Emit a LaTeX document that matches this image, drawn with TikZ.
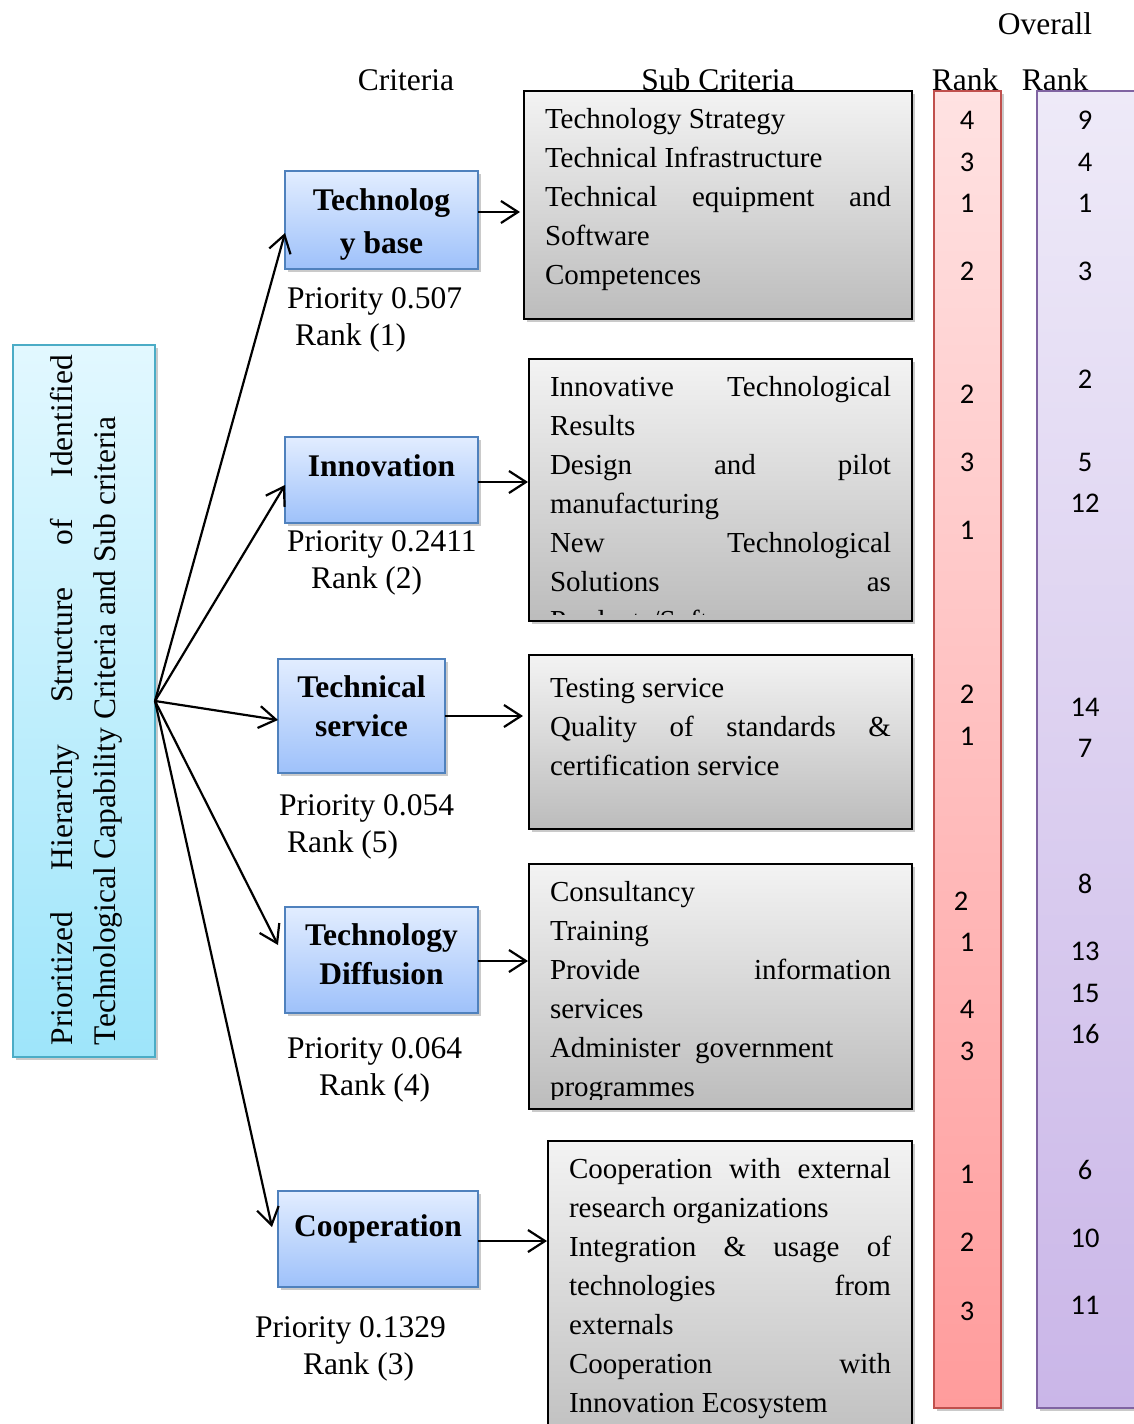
\documentclass[tikz,border=0pt]{standalone}
\usepackage{fontspec}
\setmainfont{Liberation Serif}
\newfontfamily\calib{Carlito}
\usetikzlibrary{arrows.meta,shadows}
\definecolor{critbd}{RGB}{79,129,189}
\definecolor{critTop}{RGB}{226,237,255}
\definecolor{critBot}{RGB}{158,193,250}
\definecolor{lbbd}{RGB}{75,172,198}
\definecolor{lbTop}{RGB}{226,248,255}
\definecolor{lbBot}{RGB}{158,229,250}
\definecolor{subTop}{RGB}{243,243,243}
\definecolor{subBot}{RGB}{188,188,188}
\definecolor{redbd}{RGB}{192,80,77}
\definecolor{redTop}{RGB}{255,226,226}
\definecolor{redBot}{RGB}{255,156,156}
\definecolor{purbd}{RGB}{128,100,162}
\definecolor{purTop}{RGB}{238,234,248}
\definecolor{purBot}{RGB}{202,182,232}
\newcommand\jline[2]{\makebox[#1][s]{#2}}
\begin{document}
\begin{tikzpicture}[x=0.5pt,y=-0.5pt,
 every node/.style={inner sep=0pt, outer sep=0pt},
 shadowed/.style={drop shadow={shadow xshift=1.5pt,shadow yshift=-1.5pt,opacity=0.35,fill=black!60}},
 crit/.style={draw=critbd, line width=1pt, top color=critTop, bottom color=critBot, shadowed},
 lbox/.style={draw=lbbd, line width=1pt, top color=lbTop, bottom color=lbBot, shadowed},
 subb/.style={draw=black, line width=1.2pt, top color=subTop, bottom color=subBot, shadowed},
 redcol/.style={draw=redbd, line width=1.2pt, top color=redTop, bottom color=redBot, shadowed},
 purcol/.style={draw=purbd, line width=1.2pt, top color=purTop, bottom color=purBot, shadowed},
 subtxt/.style={anchor=north west, align=left, font=\fontsize{14.5}{19.5}\selectfont},
 lbl/.style={anchor=north west, align=left, font=\fontsize{15.75}{18.5}\selectfont},
 cname/.style={align=center, font=\bfseries\fontsize{15.75}{19.5}\selectfont},
 hdr/.style={font=\fontsize{15.75}{18.5}\selectfont},
 rk/.style={font=\calib\fontsize{14.25}{17}\selectfont},
 arr/.style={line width=1.1pt, -{Straight Barb[length=8.5pt,width=11pt]}}
]
\useasboundingbox (0,0) rectangle (1134,1424);
\clip (0,0) rectangle (1134,1424);

% headers
\node[hdr] (hcrit) at (406,80) {Criteria};
\node[hdr] (hsub) at (718,80) {Sub Criteria};
\node[hdr] (hover) at (1045,24) {Overall};
\node[hdr] (hrank1) at (965,80) {Rank};
\node[hdr] (hrank2) at (1055,80) {Rank};

% left box
\node[lbox, minimum width=71pt, minimum height=356pt] (lb) at (84,701) {};
\node[rotate=90, align=left, font=\fontsize{15.75}{21.5}\selectfont] (lbt) at (86,700)
 {\jline{345pt}{Prioritized Hierarchy Structure of Identified}\\Technological Capability Criteria and Sub criteria};

% rank columns
\node[redcol, minimum width=33.5pt, minimum height=658.5pt] (rc) at (967.5,749.5) {};
\node[purcol, minimum width=51.5pt, minimum height=658.5pt] (pc) at (1088.5,749.5) {};
\foreach \x/\y/\t [count=\i] in {967/120/4,967/162/3,967/203/1,967/271/2,967/394/2,967/462/3,967/530/1,967/694/2,967/736/1,961/901/2,967/942/1,967/1009/4,967/1051/3,967/1174/1,967/1242/2,967/1311/3}
  \node[rk] (r\i) at (\x,\y) {\t};
\foreach \y/\t [count=\i] in {120/9,162/4,203/1,271/3,379/2,462/5,503/12,707/14,748/7,884/8,951/13,993/15,1034/16,1170/6,1238/10,1305/11}
  \node[rk] (o\i) at (1085,\y) {\t};

% criteria boxes
\node[crit, minimum width=96.5pt, minimum height=49pt] (tb) at (381.5,220) {};
\node[cname, font=\bfseries\fontsize{15.75}{21.5}\selectfont] (tbt) at (381.5,224.5) {Technolog\\y base};
\node[crit, minimum width=96.5pt, minimum height=43pt] (in) at (381.5,480) {};
\node[cname] (int) at (381.5,466) {Innovation};
\node[crit, minimum width=83.5pt, minimum height=57pt] (ts) at (361.5,716) {};
\node[cname] (tst) at (361.5,706) {Technical\\service};
\node[crit, minimum width=96.5pt, minimum height=53pt] (td) at (381.5,960) {};
\node[cname] (tdt) at (381.5,954) {Technology\\Diffusion};
\node[crit, minimum width=100pt, minimum height=48pt] (co) at (378,1239) {};
\node[cname] (cot) at (378,1229) {Cooperation};

% priority labels
\node[lbl] (tbp) at (287,282.6) {\strut Priority 0.507\\\hspace*{4pt}Rank (1)};
\node[lbl] (inp) at (287,525.6) {\strut Priority 0.2411\\\hspace*{12pt}Rank (2)};
\node[lbl] (tsp) at (279,789.6) {\strut Priority 0.054\\\hspace*{4pt}Rank (5)};
\node[lbl] (tdp) at (287,1032.6) {\strut Priority 0.064\\\hspace*{16pt}Rank (4)};
\node[lbl] (cop) at (255,1311.6) {\strut Priority 0.1329\\\hspace*{24pt}Rank (3)};

% sub criteria boxes
\node[subb, minimum width=194pt, minimum height=114pt] (sb1) at (718,205) {};
\node[subtxt] (sb1t) at (545,100.7) {\strut Technology Strategy\\Technical Infrastructure\\\jline{173pt}{Technical equipment and}\\Software\\Competences};

\node[subb, minimum width=191.5pt, minimum height=131pt] (sb2) at (720.5,490) {};
\begin{scope}
\clip (529,359) rectangle (912,614);
\node[subtxt] (sb2t) at (550,368.7) {\strut\jline{170.5pt}{Innovative Technological}\\Results\\\jline{170.5pt}{Design and pilot}\\manufacturing\\\jline{170.5pt}{New Technological}\\\jline{170.5pt}{Solutions as}\\Products/Software};
\end{scope}

\node[subb, minimum width=191.5pt, minimum height=87pt] (sb3) at (720.5,742) {};
\node[subtxt] (sb3t) at (550,669.7) {\strut Testing service\\\jline{170.5pt}{Quality of standards \&}\\certification service};

\node[subb, minimum width=191.5pt, minimum height=122.5pt] (sb4) at (720.5,986.5) {};
\begin{scope}
\clip (529,864) rectangle (912,1099);
\node[subtxt] (sb4t) at (550,873.7) {\strut Consultancy\\Training\\\jline{170.5pt}{Provide information}\\services\\Administer~~government\\programmes};
\end{scope}

\node[subb, minimum width=182pt, minimum height=160pt] (sb5) at (730,1301) {};
\node[subtxt] (sb5t) at (569,1150.7) {\strut\jline{161pt}{Cooperation with external}\\research organizations\\\jline{161pt}{Integration \& usage of}\\\jline{161pt}{technologies from}\\externals\\\jline{161pt}{Cooperation with}\\Innovation Ecosystem};

% connectors from the main box
\draw[arr] (lb.east) -- ([yshift=-6.5pt]tb.west);
\draw[arr] (lb.east) -- ([yshift=-2.5pt]in.west);
\draw[arr] (lb.east) -- ([yshift=-2pt]ts.west);
\draw[arr] (lb.east) -- ([xshift=-3.5pt,yshift=7.5pt]td.west);
\draw[arr] (lb.east) -- ([xshift=-3pt,yshift=6pt]co.west);

% connectors to sub criteria
\draw[arr] ([yshift=4pt]tb.east) -- ([yshift=4pt,xshift=-2pt]tb.east -| sb1.west);
\draw[arr] ([yshift=-1pt]in.east) -- ([yshift=-1pt,xshift=-0.5pt]in.east -| sb2.west);
\draw[arr] (ts.east) -- ([xshift=-3pt]ts.east -| sb3.west);
\draw[arr] ([yshift=-0.5pt]td.east) -- ([yshift=-0.5pt,xshift=-0.5pt]td.east -| sb4.west);
\draw[arr] ([yshift=-1pt]co.east) -- ([yshift=-1pt,xshift=-0.5pt]co.east -| sb5.west);
\end{tikzpicture}
\end{document}
